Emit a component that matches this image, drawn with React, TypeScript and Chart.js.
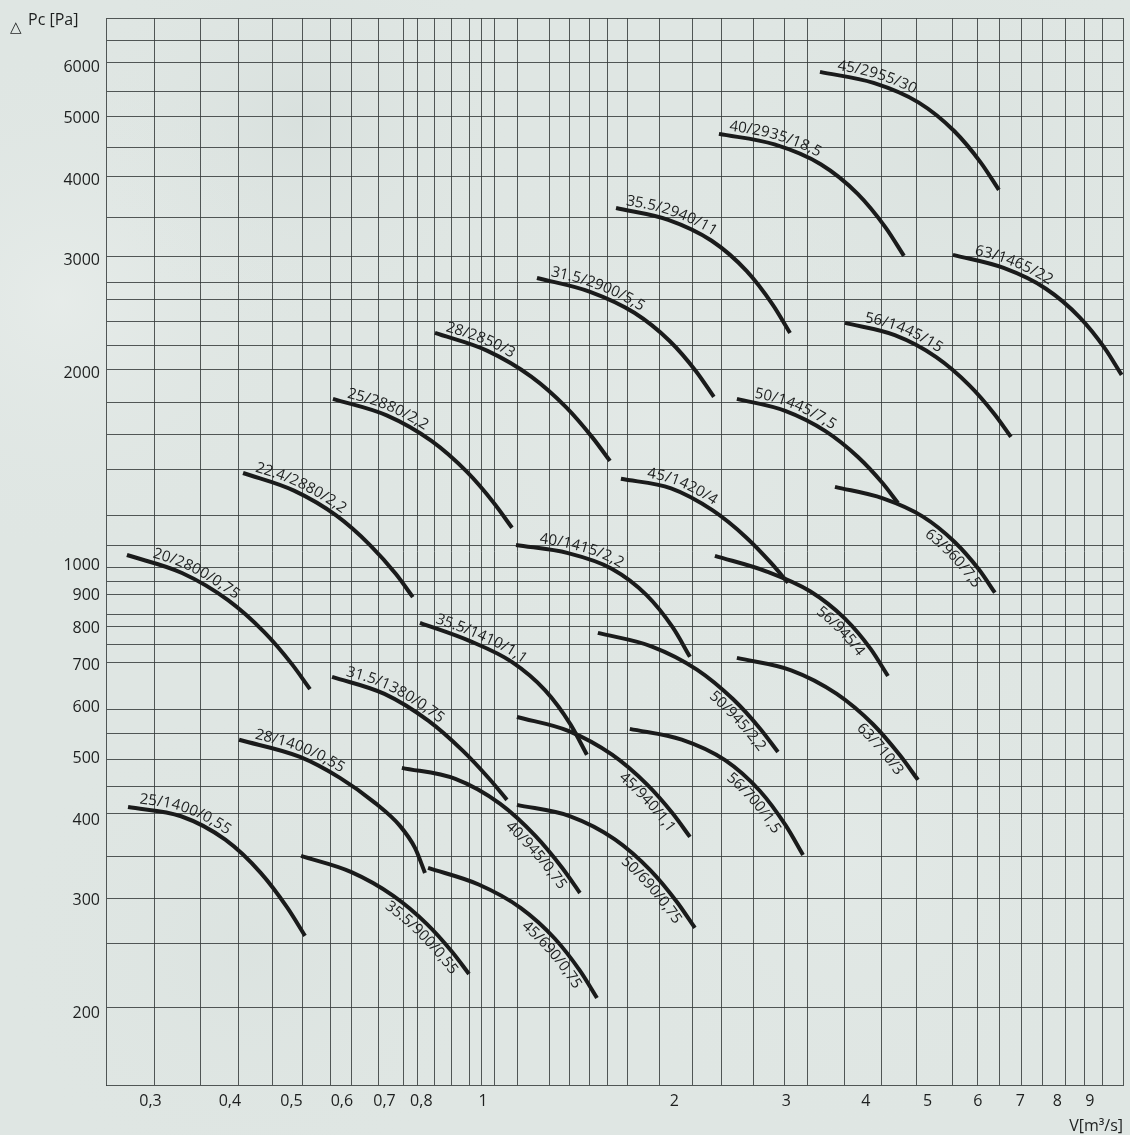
import React, { useEffect, useRef } from 'react';
import { Chart, registerables } from 'chart.js';

Chart.register(...registerables);

const X_MIN = 0.2554;
const X_MAX = 10.15;
const Y_MIN = 154.5;
const Y_MAX = 7180;

// grid lines as read from the sheet (V in m3/s, Pc in Pa)
const xGridValues = [0.304, 0.359, 0.413, 0.466, 0.521, 0.575, 0.622, 0.684, 0.751, 0.79, 0.838, 0.891, 0.954, 0.993, 1.041, 1.135, 1.274, 1.37, 1.473, 1.567, 1.69, 1.898, 2.139, 2.376, 2.659, 2.985, 3.243, 3.708, 4.241, 4.814, 5.483, 6.002, 6.5, 7.038, 7.596, 8.257, 8.842, 9.437];
const yGridValues = [204, 257, 302, 352, 410, 452, 499, 548, 596, 706, 753, 803, 841, 901, 947, 996, 1078, 1197, 1413, 1602, 1798, 2024, 2214, 2406, 2604, 2768, 3040, 3498, 4054, 4499, 5030, 5503, 6108, 6612];
const xTickLabels = [0.3, 0.4, 0.5, 0.6, 0.7, 0.8, 1, 2, 3, 4, 5, 6, 7, 8, 9];
const yTickLabels = [200, 300, 400, 500, 600, 700, 800, 900, 1000, 2000, 3000, 4000, 5000, 6000];

const curveNames = [
  '20/2800/0,75', '22.4/2880/2,2', '25/2880/2,2', '28/2850/3', '31.5/2900/5,5', '35.5/2940/11',
  '40/2935/18,5', '45/2955/30', '63/1465/22', '56/1445/15', '50/1445/7,5', '63/960/7,5',
  '45/1420/4', '40/1415/2,2', '56/945/4', '35.5/1410/1,1', '31.5/1380/0,75', '28/1400/0,55',
  '25/1400/0,55', '35.5/900/0,55', '40/945/0,75', '45/690/0,75', '45/940/1,1', '50/690/0,75',
  '50/945/2,2', '56/700/1,5', '63/710/3',
];

// air flow V [m3/s] along each curve
const curveFlow = [
  [0.2755, 0.3363, 0.3968, 0.453, 0.5003, 0.5346],
  [0.4195, 0.5044, 0.5884, 0.6655, 0.7297, 0.7757],
  [0.5809, 0.7057, 0.8299, 0.9447, 1.041, 1.111],
  [0.8405, 1.0164, 1.191, 1.352, 1.486, 1.584],
  [1.216, 1.474, 1.730, 1.966, 2.164, 2.307],
  [1.619, 1.956, 2.289, 2.597, 2.853, 3.040],
  [2.350, 2.873, 3.397, 3.884, 4.295, 4.592],
  [3.388, 4.114, 4.839, 5.508, 6.069, 6.476],
  [5.483, 6.588, 7.678, 8.677, 9.510, 10.1],
  [3.709, 4.442, 5.161, 5.820, 6.370, 6.765],
  [2.508, 2.987, 3.456, 3.884, 4.239, 4.494],
  [3.577, 4.255, 4.918, 5.522, 6.025, 6.383],
  [1.648, 1.976, 2.298, 2.594, 2.840, 3.018],
  [1.127, 1.361, 1.594, 1.807, 1.987, 2.116],
  [2.316, 2.795, 3.269, 3.705, 4.070, 4.334],
  [0.796, 0.9543, 1.110, 1.2528, 1.372, 1.457],
  [0.579, 0.700, 0.8203, 0.9309, 1.0238, 1.0907],
  [0.4135, 0.5156, 0.5958, 0.6764, 0.7404, 0.7818, 0.8106],
  [0.2766, 0.3352, 0.3934, 0.4472, 0.4924, 0.525],
  [0.5175, 0.6211, 0.7229, 0.8165, 0.8946, 0.9506],
  [0.7456, 0.9049, 1.0632, 1.209, 1.3318, 1.4207],
  [0.8196, 0.9845, 1.1472, 1.2966, 1.4214, 1.5111],
  [1.131, 1.365, 1.596, 1.809, 1.988, 2.116],
  [1.131, 1.372, 1.612, 1.834, 2.020, 2.154],
  [1.516, 1.844, 2.170, 2.472, 2.726, 2.910],
  [1.702, 2.054, 2.403, 2.724, 2.991, 3.186],
  [2.508, 3.053, 3.596, 4.101, 4.523, 4.831],
];

// static pressure Pc [Pa] along each curve
const curvePressure = [
  [1040, 975, 885, 788, 703, 642],
  [1397, 1311, 1198, 1076, 971, 894],
  [1824, 1719, 1568, 1401, 1253, 1147],
  [2312, 2168, 1976, 1769, 1588, 1459],
  [2818, 2681, 2486, 2246, 2013, 1837],
  [3625, 3474, 3222, 2891, 2563, 2312],
  [4732, 4557, 4243, 3814, 3381, 3051],
  [5914, 5685, 5300, 4781, 4264, 3868],
  [3062, 2921, 2711, 2446, 2186, 1988],
  [2397, 2294, 2120, 1915, 1728, 1591],
  [1824, 1747, 1624, 1481, 1351, 1254],
  [1329, 1275, 1194, 1089, 987, 908],
  [1368, 1322, 1221, 1108, 1010, 941],
  [1078, 1047, 990, 901, 802, 721],
  [1037, 980, 913, 828, 742, 673],
  [815, 763, 708, 639, 566, 507],
  [671, 631, 573, 513.5, 464.5, 431],
  [535, 503, 466.4, 426.3, 392.5, 362.6, 331.4],
  [420, 406.3, 373.4, 331.4, 292.4, 264.2],
  [352.2, 332.3, 305.1, 275.6, 249.3, 230.4],
  [483.6, 464.7, 425.1, 378.5, 337.5, 308.3],
  [337.4, 317.8, 292, 261.7, 232.9, 211.3],
  [580.7, 552, 507, 456, 410.3, 377.2],
  [423.3, 406.3, 374, 334.5, 298.2, 271.9],
  [786, 748.3, 688.7, 619.4, 557.3, 512.1],
  [556.4, 535.4, 497.2, 445.3, 393.4, 353.5],
  [718.2, 687, 631.6, 566.2, 506.3, 463.1],
];

// where each curve's label begins (V value on the curve) and its side (1 above, -1 below)
const labelStartFlow = [0.30, 0.435, 0.607, 0.865, 1.265, 1.666, 2.43, 3.58, 5.89, 3.96, 2.65, 5.1, 1.80, 1.216, 3.45, 0.834, 0.602, 0.435, 0.287, 0.72, 1.12, 1.19, 1.69, 1.70, 2.34, 2.49, 4.0];
const labelSide = [1, 1, 1, 1, 1, 1, 1, 1, 1, 1, 1, -1, 1, 1, -1, 1, 1, 1, 1, -1, -1, -1, -1, -1, -1, -1, -1];

const FONT = '"Open Sans", "DejaVu Sans", sans-serif';
const INK = '#1d1f1f';
const GRID = 'rgba(55,60,60,0.85)';

const fmt = (v: number) => String(v).replace('.', ',');
const isIn = (arr: number[], v: number) => arr.some((a) => Math.abs(a - v) < 1e-9);

const backgroundPlugin = {
  id: 'paper',
  beforeDraw(chart: any) {
    const { ctx, width, height } = chart;
    ctx.save();
    ctx.fillStyle = '#dfe6e3';
    ctx.fillRect(0, 0, width, height);
    const blobs: [number, number, number, string][] = [
      [60, 300, 260, 'rgba(236,240,238,0.55)'],
      [300, 120, 220, 'rgba(205,214,212,0.35)'],
      [650, 420, 300, 'rgba(232,237,235,0.35)'],
      [950, 150, 240, 'rgba(210,219,216,0.3)'],
      [850, 850, 300, 'rgba(232,238,236,0.35)'],
      [250, 950, 250, 'rgba(212,221,218,0.3)'],
    ];
    blobs.forEach(([x, y, r, c]) => {
      const g = ctx.createRadialGradient(x, y, 0, x, y, r);
      g.addColorStop(0, c);
      g.addColorStop(1, 'rgba(223,230,227,0)');
      ctx.fillStyle = g;
      ctx.fillRect(x - r, y - r, 2 * r, 2 * r);
    });
    ctx.restore();
  },
};

function samplePath(points: any[]) {
  const out: { x: number; y: number }[] = [];
  for (let k = 0; k < points.length - 1; k++) {
    const a = points[k];
    const b = points[k + 1];
    const c1x = a.cp2x ?? a.x, c1y = a.cp2y ?? a.y;
    const c2x = b.cp1x ?? b.x, c2y = b.cp1y ?? b.y;
    const n = 30;
    for (let s = 0; s < n; s++) {
      const t = s / n, u = 1 - t;
      out.push({
        x: u * u * u * a.x + 3 * u * u * t * c1x + 3 * u * t * t * c2x + t * t * t * b.x,
        y: u * u * u * a.y + 3 * u * u * t * c1y + 3 * u * t * t * c2y + t * t * t * b.y,
      });
    }
  }
  const last = points[points.length - 1];
  out.push({ x: last.x, y: last.y });
  return out;
}

const curveLabelPlugin = {
  id: 'curveLabels',
  afterDatasetsDraw(chart: any) {
    const { ctx } = chart;
    const xs = chart.scales.x;
    ctx.save();
    ctx.font = `15px ${FONT}`;
    ctx.fillStyle = INK;
    ctx.textBaseline = 'alphabetic';
    chart.data.datasets.forEach((ds: any, i: number) => {
      const meta = chart.getDatasetMeta(i);
      const path = samplePath(meta.data);
      const cum = [0];
      for (let k = 1; k < path.length; k++) {
        cum.push(cum[k - 1] + Math.hypot(path[k].x - path[k - 1].x, path[k].y - path[k - 1].y));
      }
      const total = cum[cum.length - 1];
      const startPx = xs.getPixelForValue(labelStartFlow[i]);
      let idx = path.findIndex((p) => p.x >= startPx);
      if (idx < 0) idx = 0;
      const at = (s: number) => {
        if (s >= total) {
          const a = path[path.length - 2], b = path[path.length - 1];
          const ang = Math.atan2(b.y - a.y, b.x - a.x);
          const d = s - total;
          return { x: b.x + Math.cos(ang) * d, y: b.y + Math.sin(ang) * d, ang };
        }
        let k = 1;
        while (k < cum.length - 1 && cum[k] < s) k++;
        const a = path[k - 1], b = path[k];
        const segLen = cum[k] - cum[k - 1] || 1;
        const f = (s - cum[k - 1]) / segLen;
        return { x: a.x + (b.x - a.x) * f, y: a.y + (b.y - a.y) * f, ang: Math.atan2(b.y - a.y, b.x - a.x) };
      };
      let s = cum[idx];
      const text = ds.label as string;
      for (const ch of text) {
        const w = ctx.measureText(ch).width;
        const p = at(s + w / 2);
        ctx.save();
        ctx.translate(p.x, p.y);
        ctx.rotate(p.ang);
        ctx.fillText(ch, -w / 2, labelSide[i] > 0 ? -5 : 15);
        ctx.restore();
        s += w * (labelSide[i] > 0 ? 1.0 : 1.04);
      }
    });
    ctx.restore();
  },
};

const axisTitlePlugin = {
  id: 'axisTitles',
  afterDraw(chart: any) {
    const { ctx } = chart;
    ctx.save();
    ctx.fillStyle = INK;
    ctx.textBaseline = 'alphabetic';
    ctx.font = `15px "DejaVu Sans", sans-serif`;
    ctx.textAlign = 'left';
    ctx.fillText('\u25B3', 10, 32);
    ctx.font = `16px ${FONT}`;
    ctx.fillText('Pc [Pa]', 28, 25);
    ctx.textAlign = 'right';
    ctx.fillText('V[m\u00B3/s]', 1123, 1131);
    ctx.restore();
  },
};

function makeTicks(grid: number[], labels: number[], max: number) {
  const t: any[] = grid.map((v) => ({ value: v, lbl: false }));
  labels.forEach((v) => t.push({ value: v, lbl: true }));
  t.push({ value: max, lbl: false });
  t.sort((a, b) => a.value - b.value);
  return t;
}

export default function App() {
  const ref = useRef<HTMLCanvasElement>(null);

  useEffect(() => {
    document.body.style.margin = '0';
    document.body.style.overflow = 'hidden';
    const canvas = ref.current;
    if (!canvas) return;

    const datasets = curveNames.map((name, i) => ({
      label: name,
      data: curveFlow[i].map((x, k) => ({ x, y: curvePressure[i][k] })),
      showLine: true,
      borderColor: '#1a1b1b',
      backgroundColor: '#1a1b1b',
      borderWidth: 4,
      pointRadius: 0,
      pointHoverRadius: 0,
      cubicInterpolationMode: 'monotone' as const,
      fill: false,
      borderCapStyle: 'butt' as const,
    }));

    const chart = new Chart(canvas, {
      type: 'scatter',
      data: { datasets },
      options: {
        animation: false,
        responsive: false,
        maintainAspectRatio: false,
        layout: { padding: { top: 18, right: 7, left: 0, bottom: 0 } },
        plugins: {
          legend: { display: false },
          tooltip: { enabled: false },
        },
        events: [],
        scales: {
          x: {
            type: 'logarithmic',
            min: X_MIN,
            max: X_MAX,
            afterBuildTicks: (scale: any) => {
              scale.ticks = makeTicks(xGridValues, xTickLabels, X_MAX);
            },
            afterFit: (scale: any) => {
              scale.height = 50;
            },
            ticks: {
              autoSkip: false,
              maxRotation: 0,
              minRotation: 0,
              padding: 7,
              color: INK,
              font: { family: FONT, size: 16 },
              callback: (v: any) => (isIn(xTickLabels, Number(v)) ? fmt(Number(v)) : ''),
            },
            grid: {
              drawTicks: false,
              lineWidth: 1,
              color: (c: any) => (c.tick && c.tick.lbl ? 'rgba(0,0,0,0)' : GRID),
            },
            border: { display: true, color: GRID, width: 1 },
          },
          y: {
            type: 'logarithmic',
            min: Y_MIN,
            max: Y_MAX,
            afterBuildTicks: (scale: any) => {
              scale.ticks = makeTicks(yGridValues, yTickLabels, Y_MAX);
            },
            afterFit: (scale: any) => {
              scale.width = 106;
            },
            ticks: {
              autoSkip: false,
              padding: 6,
              color: INK,
              font: { family: FONT, size: 16 },
              callback: (v: any) => (isIn(yTickLabels, Number(v)) ? String(v) : ''),
            },
            grid: {
              drawTicks: false,
              lineWidth: 1,
              color: (c: any) => (c.tick && c.tick.lbl ? 'rgba(0,0,0,0)' : GRID),
            },
            border: { display: true, color: GRID, width: 1 },
          },
        },
      },
      plugins: [backgroundPlugin, curveLabelPlugin, axisTitlePlugin],
    } as any);

    return () => chart.destroy();
  }, []);

  return (
    <div style={{ position: 'absolute', left: 0, top: 0, width: 1130, height: 1135 }}>
      <canvas ref={ref} width={1130} height={1135} style={{ display: 'block', width: 1130, height: 1135 }} />
    </div>
  );
}
